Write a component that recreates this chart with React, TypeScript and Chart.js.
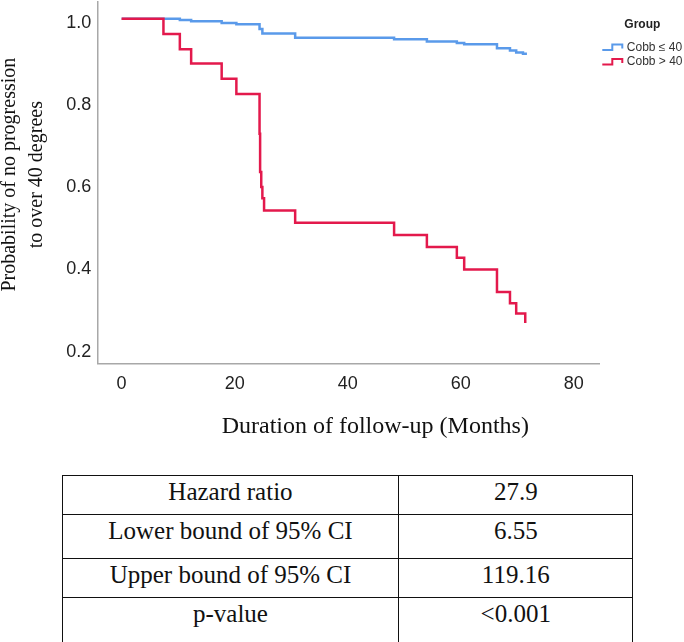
import React, { useEffect, useRef } from 'react';
import { Chart, registerables } from 'chart.js';

Chart.register(...registerables);

// ---- data ----
const xTicks = [0, 20, 40, 60, 80];
const yTicks = [0.2, 0.4, 0.6, 0.8, 1.0];
const legendTitle = 'Group';
const groupLabels = ['Cobb ≤ 40', 'Cobb > 40'];
const xAxisTitle = 'Duration of follow-up (Months)';
const yAxisTitle = ['Probability of no progression', 'to over 40 degrees'];

const lowTimes = [0, 10.3, 12.3, 17.7, 20.3, 24.4, 24.9, 30.7, 48.2, 54.0, 59.3, 60.6, 66.4, 68.7, 69.8, 71.0, 71.7];
const lowSurv = [1.0, 0.997, 0.994, 0.99, 0.987, 0.975, 0.964, 0.954, 0.95, 0.945, 0.941, 0.938, 0.928, 0.923, 0.918, 0.915, 0.915];

const highTimes = [0, 7.4, 10.3, 12.3, 17.7, 20.3, 24.4, 24.5, 24.7, 24.9, 25.2, 30.7, 48.2, 54.0, 59.3, 60.6, 66.4, 68.7, 69.8, 71.4];
const highSurv = [1.0, 0.963, 0.926, 0.891, 0.854, 0.817, 0.72, 0.627, 0.59, 0.563, 0.533, 0.503, 0.473, 0.444, 0.418, 0.389, 0.334, 0.307, 0.282, 0.259];

const tableLabels = ['Hazard ratio', 'Lower bound of 95% CI', 'Upper bound of 95% CI', 'p-value'];
const tableValues = ['27.9', '6.55', '119.16', '<0.001'];

const BLUE = '#5A9AEA';
const RED = '#E3194C';
const SERIF = '"Liberation Serif", "Times New Roman", serif';
const SANS = '"Liberation Sans", Arial, sans-serif';

const overlayPlugin = {
  id: 'overlay',
  afterDraw(chart: any) {
    const ctx = chart.ctx as CanvasRenderingContext2D;
    const area = chart.chartArea;
    ctx.save();
    // y axis title (two lines, rotated)
    ctx.fillStyle = '#111';
    ctx.font = '20px ' + SERIF;
    ctx.textAlign = 'center';
    ctx.textBaseline = 'alphabetic';
    const cy = area.top + (area.bottom - area.top) / 2 - 8;
    [14.5, 41.5].forEach((bx, i) => {
      ctx.save();
      ctx.translate(bx, cy);
      ctx.rotate(-Math.PI / 2);
      ctx.fillText(yAxisTitle[i], 0, 0);
      ctx.restore();
    });
    // x axis title
    ctx.font = '24px ' + SERIF;
    ctx.fillText(xAxisTitle, area.left + (area.right - area.left) / 2 + 27, area.bottom + 70);

    // legend
    const lx = area.right + 3;
    ctx.fillStyle = '#222';
    ctx.font = 'bold 12px ' + SANS;
    ctx.textAlign = 'center';
    ctx.textBaseline = 'middle';
    ctx.fillText(legendTitle, lx + 40, 25);
    ctx.font = '12px ' + SANS;
    ctx.textAlign = 'left';
    const ds = chart.data.datasets;
    const entries = [ds[1], ds[0]];
    entries.forEach((d: any, i: number) => {
      const y = 47.5 + i * 14.4;
      ctx.strokeStyle = d.borderColor;
      ctx.lineWidth = 2;
      ctx.beginPath();
      ctx.moveTo(lx, y + 2.5);
      ctx.lineTo(lx + 10, y + 2.5);
      ctx.lineTo(lx + 10, y - 3);
      ctx.lineTo(lx + 20, y - 3);
      ctx.lineTo(lx + 20, y + 1);
      ctx.stroke();
      ctx.fillStyle = '#333';
      ctx.fillText(d.label, lx + 24.5, y);
    });
    ctx.restore();
  },
};

export default function App() {
  const canvasRef = useRef<HTMLCanvasElement | null>(null);

  useEffect(() => {
    document.body.style.margin = '0';
    const canvas = canvasRef.current;
    if (!canvas) return;
    const chart = new Chart(canvas, {
      type: 'line',
      data: {
        datasets: [
          {
            label: groupLabels[1],
            data: highTimes.map((t, i) => ({ x: t, y: highSurv[i] })),
            borderColor: RED,
            borderWidth: 2.5,
            stepped: 'before',
            pointRadius: 0,
            fill: false,
            order: 0,
          },
          {
            label: groupLabels[0],
            data: lowTimes.map((t, i) => ({ x: t, y: lowSurv[i] })),
            borderColor: BLUE,
            borderWidth: 2.5,
            stepped: 'before',
            pointRadius: 0,
            fill: false,
            order: 1,
          },
        ],
      },
      options: {
        animation: false,
        responsive: false,
        layout: { padding: { top: 2, right: 84.7, left: 0, bottom: 0 } },
        plugins: { legend: { display: false }, tooltip: { enabled: false } },
        scales: {
          x: {
            type: 'linear',
            min: -4.3,
            max: 84.5,
            grid: { display: false, drawTicks: false },
            border: { display: true, color: '#a8a8a8', width: 1.5 },
            ticks: {
              color: '#222',
              font: { family: SANS, size: 18 },
              padding: 10,
              maxRotation: 0,
              callback: (v: any) => String(v),
            },
            afterBuildTicks: (scale: any) => {
              scale.ticks = xTicks.map((v) => ({ value: v }));
            },
            afterFit: (scale: any) => {
              scale.height = 470 - 363.3;
              scale.paddingLeft = 0;
              scale.paddingRight = 0;
            },
          },
          y: {
            type: 'linear',
            min: 0.1605,
            max: 1.041,
            grid: { display: false, drawTicks: false },
            border: { display: true, color: '#a8a8a8', width: 1.5 },
            ticks: {
              color: '#222',
              font: { family: SANS, size: 18 },
              padding: 6,
              labelOffset: 4.5,
              callback: (v: any) => Number(v).toFixed(1),
            },
            afterBuildTicks: (scale: any) => {
              scale.ticks = yTicks.map((v) => ({ value: v }));
            },
            afterFit: (scale: any) => {
              scale.width = 97.3;
              scale.paddingTop = 0;
              scale.paddingBottom = 0;
            },
          },
        },
      },
      plugins: [overlayPlugin],
    } as any);
    return () => chart.destroy();
  }, []);

  const rowHeights = [39, 44, 39, 45];
  const cellStyle: React.CSSProperties = {
    border: '1px solid #111',
    textAlign: 'center',
    verticalAlign: 'top',
    paddingTop: 2,
    paddingBottom: 0,
    paddingLeft: 0,
    paddingRight: 0,
    lineHeight: '28px',
    fontFamily: SERIF,
    fontSize: 25,
    color: '#111',
  };

  return (
    <div style={{ position: 'relative', width: 684, height: 642, background: '#fff', overflow: 'hidden' }}>
      <canvas ref={canvasRef} width={684} height={470} style={{ position: 'absolute', left: 0, top: 0 }} />
      <table
        style={{
          position: 'absolute',
          left: 61.7,
          top: 474.7,
          width: 571,
          borderCollapse: 'collapse',
          tableLayout: 'fixed',
        }}
      >
        <colgroup>
          <col style={{ width: 336.6 }} />
          <col style={{ width: 234 }} />
        </colgroup>
        <tbody>
          {tableLabels.map((lab, i) => (
            <tr key={lab} style={{ height: rowHeights[i] }}>
              <td style={cellStyle}>{lab}</td>
              <td style={cellStyle}>{tableValues[i]}</td>
            </tr>
          ))}
        </tbody>
      </table>
    </div>
  );
}
